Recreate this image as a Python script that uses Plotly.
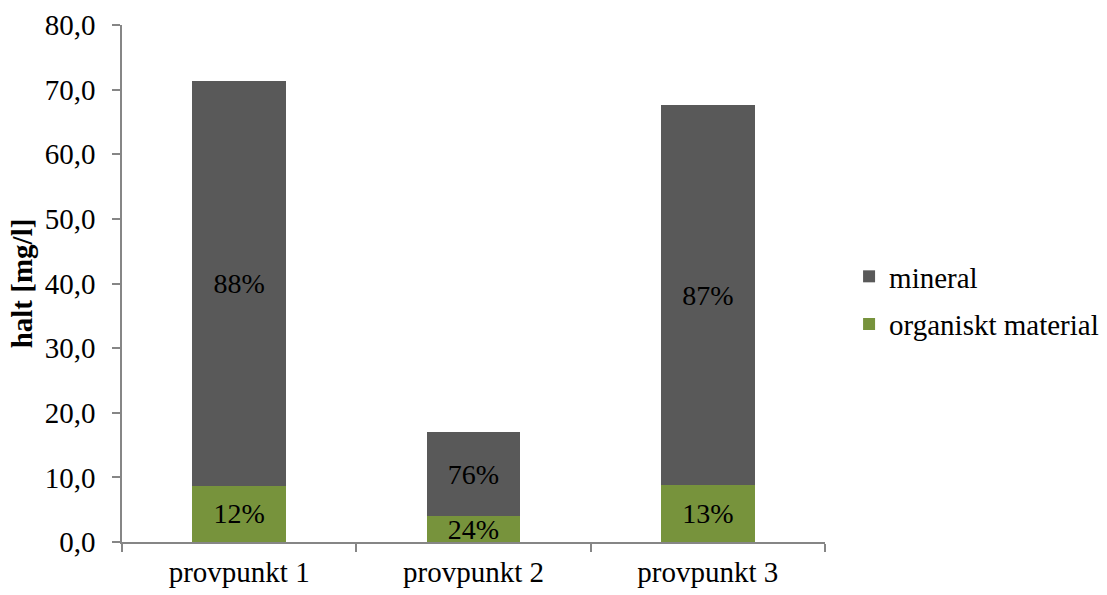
import plotly.graph_objects as go

# Suspended solids per sampling point, split into organic and mineral parts (mg/l)
categories = ["provpunkt 1", "provpunkt 2", "provpunkt 3"]
organiskt = [8.67, 4.02, 8.82]
mineral = [62.6, 12.95, 58.8]

totals = [o + m for o, m in zip(organiskt, mineral)]
org_pct = [f"{round(100 * o / t)}%" for o, t in zip(organiskt, totals)]
min_pct = [f"{round(100 * m / t)}%" for m, t in zip(mineral, totals)]

FONT = "Liberation Serif"
AXIS_COLOR = "#868686"

fig = go.Figure()
fig.add_trace(go.Bar(
    x=categories, y=organiskt, name="organiskt material",
    marker=dict(color="#77933C", line=dict(width=0)),
    text=org_pct, textposition="inside", insidetextanchor="middle",
    textangle=0, textfont=dict(family=FONT, size=28, color="black"),
    legendgroup="org", legendrank=2, hoverinfo="y+name",
))
fig.add_trace(go.Bar(
    x=categories, y=mineral, name="mineral",
    marker=dict(color="#595959", line=dict(width=0)),
    text=min_pct, textposition="inside", insidetextanchor="middle",
    textangle=0, textfont=dict(family=FONT, size=28, color="black"),
    legendgroup="min", legendrank=1, hoverinfo="y+name",
))

fig.update_layout(
    width=1107, height=595,
    barmode="stack", bargap=0.6,
    separators=", ",
    paper_bgcolor="white", plot_bgcolor="white",
    font=dict(family=FONT, size=29, color="black"),
    margin=dict(l=122, r=282, t=25, b=53, autoexpand=False),
    uniformtext=dict(mode="show", minsize=28),
    showlegend=True,
    legend=dict(
        xref="container", yref="container",
        x=0.767, y=0.495, xanchor="left", yanchor="middle",
        traceorder="grouped", tracegroupgap=7,
        font=dict(family=FONT, size=29, color="black"),
        bgcolor="rgba(0,0,0,0)",
    ),
    xaxis=dict(
        automargin=False,
        showline=True, linecolor=AXIS_COLOR, linewidth=1.5,
        ticks="outside", tickson="boundaries", ticklen=8,
        tickcolor=AXIS_COLOR, tickwidth=1.5,
        showgrid=False, ticklabelstandoff=3,
    ),
    yaxis=dict(
        automargin=False,
        range=[0, 80], dtick=10, tickformat=".1f",
        showline=True, linecolor=AXIS_COLOR, linewidth=1.5,
        ticks="outside", ticklen=8, tickcolor=AXIS_COLOR, tickwidth=1.5,
        showgrid=False, zeroline=False, ticklabelstandoff=11,
        title=dict(text="<b>halt [mg/l]</b>", font=dict(family=FONT, size=29), standoff=4),
    ),
)

fig.write_html("out.html")
